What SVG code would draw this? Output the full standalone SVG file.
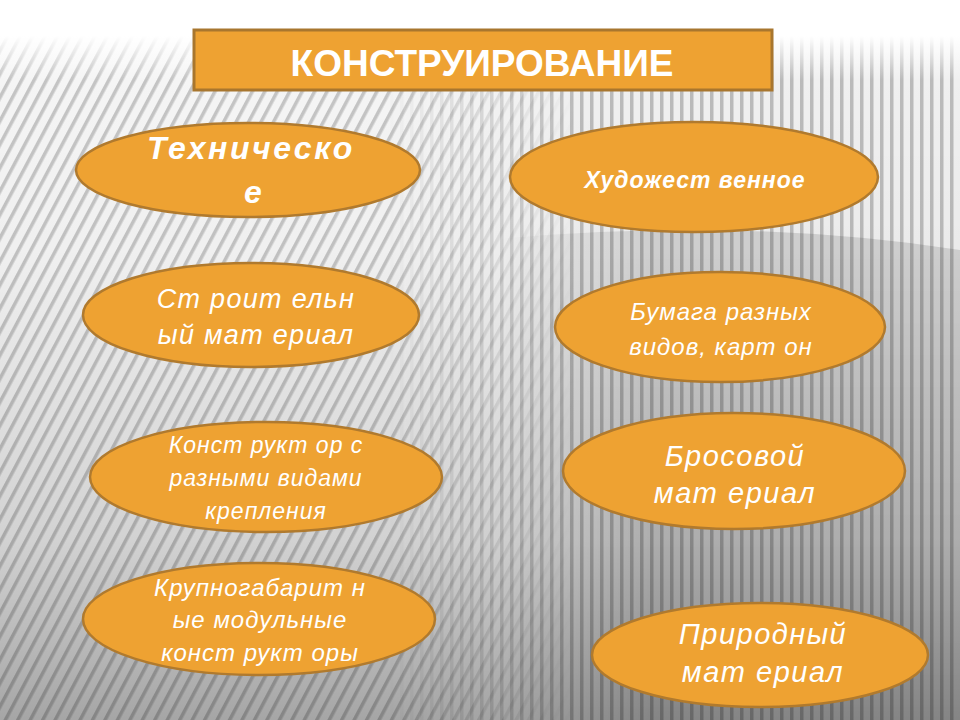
<svg xmlns="http://www.w3.org/2000/svg" width="960" height="720" viewBox="0 0 960 720">
<defs>
<pattern id="diag" width="11" height="11" patternUnits="userSpaceOnUse" patternTransform="rotate(28)">
<rect width="11" height="11" fill="#f7f7f7"/>
<rect x="0" width="3.5" height="11" fill="#c6c6c6"/>
</pattern>
<pattern id="vert" width="10" height="10" patternUnits="userSpaceOnUse">
<rect width="10" height="10" fill="#f2f2f2"/>
<rect x="0" width="3.5" height="10" fill="#bcbcbc"/>
</pattern>
<linearGradient id="hmaskg" x1="0" y1="0" x2="1" y2="0">
<stop offset="0.40" stop-color="#000"/>
<stop offset="0.60" stop-color="#fff"/>
</linearGradient>
<mask id="hmask"><rect width="960" height="720" fill="url(#hmaskg)"/></mask>
<linearGradient id="rmaskg" x1="0" y1="0" x2="1" y2="0">
<stop offset="0.52" stop-color="#000"/>
<stop offset="0.68" stop-color="#fff"/>
</linearGradient>
<mask id="rmask"><rect width="960" height="720" fill="url(#rmaskg)"/></mask>
<linearGradient id="shade" x1="0" y1="0" x2="0" y2="1">
<stop offset="0" stop-color="#000" stop-opacity="0"/>
<stop offset="0.35" stop-color="#000" stop-opacity="0.03"/>
<stop offset="0.75" stop-color="#000" stop-opacity="0.15"/>
<stop offset="1" stop-color="#000" stop-opacity="0.33"/>
</linearGradient>
<linearGradient id="topfade" x1="0" y1="0" x2="0" y2="1">
<stop offset="0" stop-color="#fff" stop-opacity="1"/>
<stop offset="0.45" stop-color="#fff" stop-opacity="1"/>
<stop offset="1" stop-color="#fff" stop-opacity="0"/>
</linearGradient>
<linearGradient id="rshade" x1="0" y1="0" x2="0" y2="1">
<stop offset="0" stop-color="#000" stop-opacity="0.12"/>
<stop offset="1" stop-color="#000" stop-opacity="0.18"/>
</linearGradient>
</defs>
<style>
.node{fill:#EEA232;stroke:#B07A2E;stroke-width:2.5}
.t{fill:#fff;font-family:"Liberation Sans",Arial,sans-serif;font-style:italic;font-weight:normal;text-anchor:middle}
.b{font-weight:bold}
</style>
<g id="background">
<rect width="960" height="720" fill="#ffffff"/>
<rect width="960" height="720" fill="url(#diag)"/>
<rect width="960" height="720" fill="url(#vert)" mask="url(#hmask)"/>
<path d="M400 250 Q700 210 960 250 L960 720 L400 720 Z" fill="url(#rshade)" mask="url(#rmask)"/>
<rect width="960" height="720" fill="url(#shade)"/>
<rect width="960" height="80" fill="url(#topfade)"/>
</g>
<g id="title">
<rect x="194" y="30" width="578" height="60" fill="#EEA232" stroke="#A8762E" stroke-width="3"/>
<text x="482" y="76" fill="#fff" font-family="Liberation Sans, Arial, sans-serif" font-weight="bold" font-size="37" text-anchor="middle">КОНСТРУИРОВАНИЕ</text>
</g>
<g id="connectors"></g>
<g id="n1">
<ellipse class="node" cx="248" cy="170" rx="172" ry="47"/>
<text class="t b" x="251" y="159" font-size="32" letter-spacing="2.5">Техническо</text>
<text class="t b" x="253" y="203" font-size="32">е</text>
</g>
<g id="n2">
<ellipse class="node" cx="694" cy="177" rx="184" ry="55"/>
<text class="t b" x="695" y="188" font-size="23" letter-spacing="1">Художест венное</text>
</g>
<g id="n3">
<ellipse class="node" cx="251" cy="315" rx="168" ry="52"/>
<text class="t" x="256" y="308" font-size="27" letter-spacing="1.3">Ст роит ельн</text>
<text class="t" x="256" y="344" font-size="27" letter-spacing="1.3">ый мат ериал</text>
</g>
<g id="n4">
<ellipse class="node" cx="720" cy="327" rx="165" ry="55"/>
<text class="t" x="721" y="320" font-size="24" letter-spacing="1">Бумага разных</text>
<text class="t" x="721" y="355" font-size="24" letter-spacing="1">видов, карт он</text>
</g>
<g id="n5">
<ellipse class="node" cx="266" cy="477" rx="176" ry="55"/>
<text class="t" x="266" y="453" font-size="23" letter-spacing="1">Конст рукт ор с</text>
<text class="t" x="266" y="486" font-size="23" letter-spacing="1">разными видами</text>
<text class="t" x="266" y="519" font-size="23" letter-spacing="1">крепления</text>
</g>
<g id="n6">
<ellipse class="node" cx="734" cy="471" rx="171" ry="58"/>
<text class="t" x="735" y="466" font-size="29" letter-spacing="1.5">Бросовой</text>
<text class="t" x="735" y="503" font-size="29" letter-spacing="1.5">мат ериал</text>
</g>
<g id="n7">
<ellipse class="node" cx="259" cy="619" rx="176" ry="56"/>
<text class="t" x="260" y="596" font-size="24" letter-spacing="1">Крупногабарит н</text>
<text class="t" x="260" y="628" font-size="24" letter-spacing="1">ые модульные</text>
<text class="t" x="260" y="661" font-size="24" letter-spacing="1">конст рукт оры</text>
</g>
<g id="n8">
<ellipse class="node" cx="760" cy="655" rx="168" ry="52"/>
<text class="t" x="763" y="644" font-size="29" letter-spacing="1.5">Природный</text>
<text class="t" x="763" y="682" font-size="29" letter-spacing="1.5">мат ериал</text>
</g>
</svg>
